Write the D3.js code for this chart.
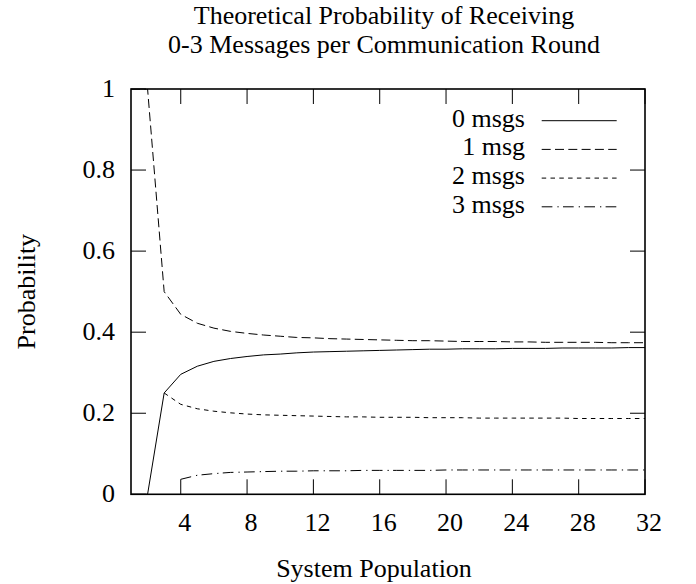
<!DOCTYPE html>
<html>
<head>
<meta charset="utf-8">
<script src="https://cdn.jsdelivr.net/npm/d3@7"></script>
<style>
  html, body { margin: 0; padding: 0; background: #fff; }
  svg { display: block; }
  text { font-family: "Liberation Serif", "Times New Roman", serif; fill: #000; }
</style>
</head>
<body>
<svg id="chart" width="696" height="584"></svg>
<script>
// ---- data ----
const population = [1,2,3,4,5,6,7,8,9,10,11,12,13,14,15,16,17,18,19,20,21,22,23,24,25,26,27,28,29,30,31,32];
const msgs0 = [0,0,0.250,0.296,0.316,0.328,0.335,0.340,0.344,0.346,0.349,0.351,0.352,0.353,0.354,0.355,0.356,0.357,0.358,0.358,0.359,0.359,0.359,0.360,0.360,0.360,0.361,0.361,0.361,0.361,0.362,0.362];
const msgs1 = [1,1,0.500,0.444,0.422,0.410,0.402,0.397,0.393,0.390,0.387,0.386,0.384,0.383,0.382,0.381,0.380,0.379,0.379,0.378,0.377,0.377,0.377,0.376,0.376,0.375,0.375,0.375,0.375,0.374,0.374,0.374];
const msgs2 = [null,null,0.250,0.222,0.211,0.205,0.201,0.198,0.196,0.195,0.194,0.193,0.192,0.191,0.191,0.190,0.190,0.190,0.189,0.189,0.189,0.188,0.188,0.188,0.188,0.188,0.188,0.187,0.187,0.187,0.187,0.187];
const msgs3 = [null,null,null,0.037,0.047,0.051,0.054,0.055,0.056,0.057,0.057,0.058,0.058,0.058,0.059,0.059,0.059,0.059,0.059,0.060,0.060,0.060,0.060,0.060,0.060,0.060,0.060,0.060,0.060,0.060,0.060,0.060];
const seriesNames = ["0 msgs", "1 msg", "2 msgs", "3 msgs"];
const xTicks = [4, 8, 12, 16, 20, 24, 28, 32];
const yTicks = [0, 0.2, 0.4, 0.6, 0.8, 1];
const titleLines = ["Theoretical Probability of Receiving", "0-3 Messages per Communication Round"];
const xLabel = "System Population";
const yLabel = "Probability";

// ---- layout ----
const svg = d3.select("#chart");
const L = 131, R = 645, T = 89, B = 494.3;
const FS = 26;
const x = d3.scaleLinear().domain([1, 32]).range([L, R]);
const y = d3.scaleLinear().domain([0, 1]).range([B, T]);
const dashes = [null, "9,4.3", "4.5,4.3", "10.7,5,1.3,4.3"];
const allSeries = [msgs0, msgs1, msgs2, msgs3];

svg.append("defs").append("clipPath").attr("id", "clip")
  .append("rect").attr("x", L).attr("y", T).attr("width", R - L).attr("height", B - T);

// ticks (inward, mirrored)
const tickLen = 15;
const gTicks = svg.append("g").attr("stroke", "#000").attr("stroke-width", 1);
xTicks.forEach(v => {
  gTicks.append("line").attr("x1", x(v)).attr("x2", x(v)).attr("y1", B).attr("y2", B - tickLen);
  gTicks.append("line").attr("x1", x(v)).attr("x2", x(v)).attr("y1", T).attr("y2", T + tickLen);
});
yTicks.forEach(v => {
  gTicks.append("line").attr("x1", L).attr("x2", L + tickLen).attr("y1", y(v)).attr("y2", y(v));
  gTicks.append("line").attr("x1", R).attr("x2", R - tickLen).attr("y1", y(v)).attr("y2", y(v));
});

// tick labels
svg.append("g").selectAll("text").data(xTicks).join("text")
  .attr("x", d => x(d) + 4).attr("y", 531)
  .attr("text-anchor", "middle").attr("font-size", FS).text(d => d);
svg.append("g").selectAll("text").data(yTicks).join("text")
  .attr("x", 115).attr("y", d => y(d) + 7.5)
  .attr("text-anchor", "end").attr("font-size", FS).text(d => d3.format("~g")(d));

// lines
const line = d3.line()
  .defined(d => d[1] !== null)
  .x(d => x(d[0])).y(d => y(d[1]));
const gLines = svg.append("g").attr("clip-path", "url(#clip)");
allSeries.forEach((s, i) => {
  gLines.append("path")
    .datum(population.map((p, k) => [p, s[k]]))
    .attr("d", line)
    .attr("fill", "none").attr("stroke", "#000").attr("stroke-width", 1)
    .attr("stroke-dasharray", dashes[i]);
});

// border
svg.append("rect").attr("x", L).attr("y", T).attr("width", R - L).attr("height", B - T)
  .attr("fill", "none").attr("stroke", "#000").attr("stroke-width", 1.6);

// legend
const legRow0 = 120.7, legStep = 28.7;
seriesNames.forEach((name, i) => {
  const cy = legRow0 + i * legStep;
  svg.append("text").attr("x", 525).attr("y", cy + 6)
    .attr("text-anchor", "end").attr("font-size", FS).text(name);
  svg.append("line").attr("x1", 541.7).attr("x2", 616.7).attr("y1", cy).attr("y2", cy)
    .attr("stroke", "#000").attr("stroke-width", 1).attr("stroke-dasharray", dashes[i]);
});

// title
titleLines.forEach((t, i) => {
  svg.append("text").attr("x", 384).attr("y", 23.5 + i * 29)
    .attr("text-anchor", "middle").attr("font-size", FS).text(t);
});

// axis labels
svg.append("text").attr("x", 374).attr("y", 577)
  .attr("text-anchor", "middle").attr("font-size", FS).text(xLabel);
svg.append("text").attr("transform", "translate(35," + ((T + B) / 2) + ") rotate(-90)")
  .attr("text-anchor", "middle").attr("font-size", FS).text(yLabel);
</script>
</body>
</html>
